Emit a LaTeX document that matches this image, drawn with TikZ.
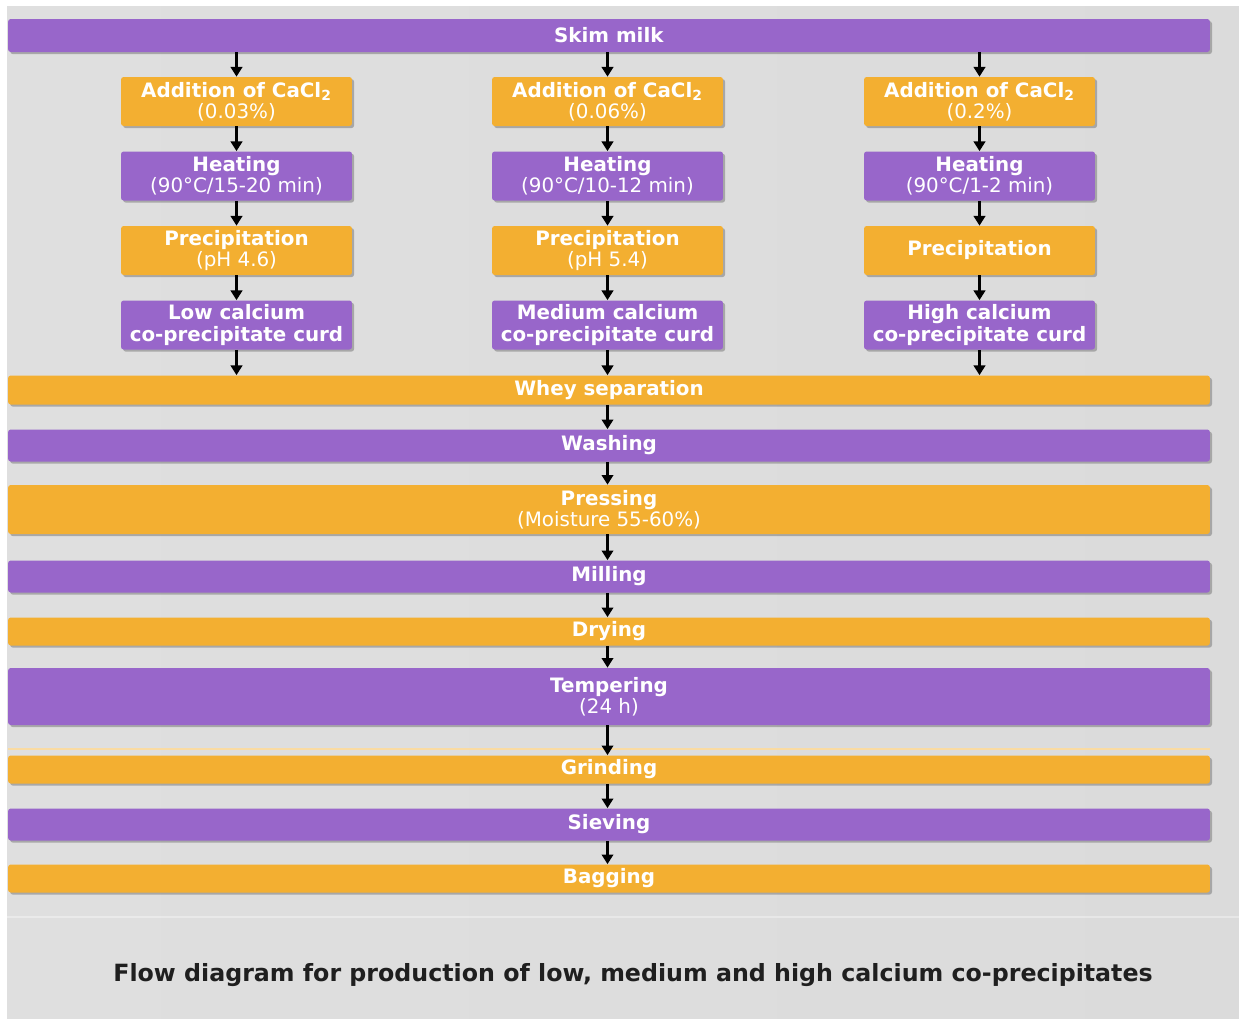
\documentclass[tikz,border=0pt]{standalone}
\usepackage{fontspec}
\setmainfont{DejaVu Sans}
\usetikzlibrary{arrows.meta,positioning,shadows}

\definecolor{barpurple}{HTML}{9866CA}
\definecolor{barorange}{HTML}{F3AF31}
\definecolor{bgleft}{HTML}{DFDFDF}
\definecolor{bgmid}{HTML}{E7E7E7}
\definecolor{bgright}{HTML}{DBDBDB}

\newcommand{\addcacl}{\textbf{Addition of CaCl\textsubscript{2}}}

\begin{document}
\begin{tikzpicture}[x=0.02cm,y=-0.02cm]
        \tikzstyle{every node}=[font=\fontsize{11.3}{12.2}\selectfont,text=white,align=center,inner sep=0pt]
        \tikzstyle{box}=[rounded corners=1.5pt,drop shadow={shadow xshift=1.2pt,shadow yshift=-1.2pt,opacity=0.45,fill=black!60}]
        \tikzstyle{purplebox}=[box,fill=barpurple]
        \tikzstyle{orangebox}=[box,fill=barorange]
        \tikzstyle{bar}=[minimum width=24.04cm]
        \tikzstyle{colbox}=[minimum width=4.62cm,minimum height=0.98cm]
        \tikzstyle{flow}=[-{Triangle[length=5.5pt,width=6.5pt]},line width=1.4pt,black]

        %%% Background
        \useasboundingbox (0,0) rectangle (1239,1018);
        \fill[white] (0,0) rectangle (1239,1018);
        \shade[left color=bgleft,middle color=bgmid,right color=bgright] (7,6) rectangle (1239,1018);
        \draw[white,opacity=0.35,line width=0.8pt] (7,917) -- (1239,917);

        %%% Top
        \node[purplebox,bar,minimum height=0.66cm] (skim) at (609,35.5) {\textbf{Skim milk}};

        %%% Three columns
        \node[orangebox,colbox] (add1) at (236.5,101.5) {\addcacl\\(0.03\%)};
        \node[purplebox,colbox] (heat1) at (236.5,176) {\textbf{Heating}\\(90°C/15-20 min)};
        \node[orangebox,colbox] (prec1) at (236.5,250.5) {\textbf{Precipitation}\\(pH 4.6)};
        \node[purplebox,colbox] (curd1) at (236.5,325) {\textbf{Low calcium}\\\textbf{co-precipitate curd}};

        \node[orangebox,colbox] (add2) at (607.5,101.5) {\addcacl\\(0.06\%)};
        \node[purplebox,colbox] (heat2) at (607.5,176) {\textbf{Heating}\\(90°C/10-12 min)};
        \node[orangebox,colbox] (prec2) at (607.5,250.5) {\textbf{Precipitation}\\(pH 5.4)};
        \node[purplebox,colbox] (curd2) at (607.5,325) {\textbf{Medium calcium}\\\textbf{co-precipitate curd}};

        \node[orangebox,colbox] (add3) at (979.5,101.5) {\addcacl\\(0.2\%)};
        \node[purplebox,colbox] (heat3) at (979.5,176) {\textbf{Heating}\\(90°C/1-2 min)};
        \node[orangebox,colbox] (prec3) at (979.5,250.5) {\textbf{Precipitation}};
        \node[purplebox,colbox] (curd3) at (979.5,325) {\textbf{High calcium}\\\textbf{co-precipitate curd}};

        %%% Common steps
        \node[orangebox,bar,minimum height=0.58cm] (whey) at (609,390) {\textbf{Whey separation}};
        \node[purplebox,bar,minimum height=0.64cm] (wash) at (609,445.5) {\textbf{Washing}};
        \node[orangebox,bar,minimum height=0.98cm] (press) at (609,509.5) {\textbf{Pressing}\\(Moisture 55-60\%)};
        \node[purplebox,bar,minimum height=0.64cm] (mill) at (609,576.5) {\textbf{Milling}};
        \node[orangebox,bar,minimum height=0.56cm] (dry) at (609,631.5) {\textbf{Drying}};
        \node[purplebox,bar,minimum height=1.14cm] (temper) at (609,696.5) {\textbf{Tempering}\\(24 h)};
        \draw[barorange!45,line width=1pt] (8,749) -- (1210,749);
        \node[orangebox,bar,minimum height=0.56cm] (grind) at (609,769.5) {\textbf{Grinding}};
        \node[purplebox,bar,minimum height=0.64cm] (sieve) at (609,824.5) {\textbf{Sieving}};
        \node[orangebox,bar,minimum height=0.56cm] (bag) at (609,878.5) {\textbf{Bagging}};

        \node[text=black!88,font=\fontsize{13.5}{16}\selectfont\bfseries] (caption) at (633,975) {Flow diagram for production of low, medium and high calcium co-precipitates};

        %%% Arrows
        \draw[flow] (skim.south -| add1) -- (add1.north);
        \draw[flow] (skim.south -| add2) -- (add2.north);
        \draw[flow] (skim.south -| add3) -- (add3.north);
        \foreach \c in {1,2,3} {
            \draw[flow] (add\c) -- (heat\c);
            \draw[flow] (heat\c) -- (prec\c);
            \draw[flow] (prec\c) -- (curd\c);
            \draw[flow] (curd\c) -- (curd\c |- whey.north);
        }
        \draw[flow] (whey.south -| curd2) -- (wash.north -| curd2);
        \draw[flow] (wash.south -| curd2) -- (press.north -| curd2);
        \draw[flow] (press.south -| curd2) -- (mill.north -| curd2);
        \draw[flow] (mill.south -| curd2) -- (dry.north -| curd2);
        \draw[flow] (dry.south -| curd2) -- (temper.north -| curd2);
        \draw[flow] (temper.south -| curd2) -- (grind.north -| curd2);
        \draw[flow] (grind.south -| curd2) -- (sieve.north -| curd2);
        \draw[flow] (sieve.south -| curd2) -- (bag.north -| curd2);
\end{tikzpicture}
\end{document}
